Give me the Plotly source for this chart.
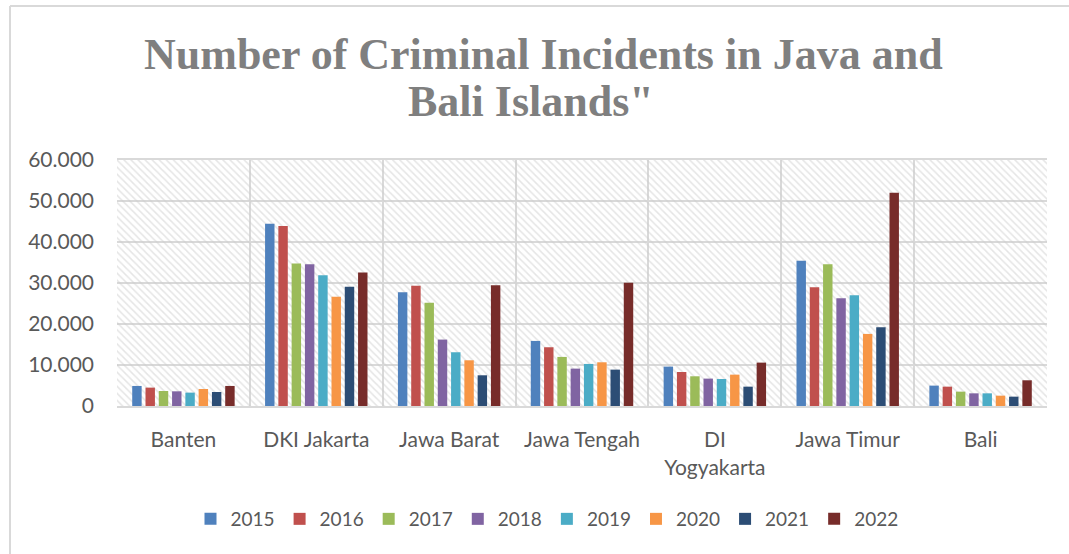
import plotly.graph_objects as go

categories = ["Banten", "DKI Jakarta", "Jawa Barat", "Jawa Tengah", "DI<br>Yogyakarta", "Jawa Timur", "Bali"]
years = ["2015", "2016", "2017", "2018", "2019", "2020", "2021", "2022"]
colors = ["#4f81bd", "#c0504d", "#9bbb59", "#8064a2", "#4bacc6", "#f79646", "#2c4d75", "#772c2a"]

v2015 = [4890, 44450, 27760, 15870, 9610, 35410, 4970]
v2016 = [4480, 43880, 29310, 14330, 8300, 28980, 4720]
v2017 = [3660, 34760, 25160, 11970, 7250, 34600, 3500]
v2018 = [3580, 34600, 16200, 9120, 6680, 26290, 3090]
v2019 = [3260, 31910, 13110, 10260, 6590, 27030, 3090]
v2020 = [4150, 26620, 11150, 10660, 7650, 17580, 2520]
v2021 = [3420, 29060, 7490, 8870, 4720, 19210, 2280]
v2022 = [4890, 32560, 29470, 30040, 10580, 52020, 6270]
series = [v2015, v2016, v2017, v2018, v2019, v2020, v2021, v2022]

title_lines = ["Number of Criminal Incidents in Java and", "Bali Islands\""]

Y_MAX = 60000
tick_vals = [0, 10000, 20000, 30000, 40000, 50000, 60000]

W, H = 1069, 554
ML, MR, MT, MB = 117, 22, 160, 148
PW, PH = W - ML - MR, H - MT - MB


def px_x(x):
    return (x - ML) / PW


def px_y(y):
    return (H - MB - y) / PH


fig = go.Figure()

# hatched background panel (decoration) on base axis
fig.add_trace(go.Bar(
    x=categories, y=[Y_MAX] * len(categories), width=1,
    xaxis="x", yaxis="y", showlegend=False, hoverinfo="skip",
    marker=dict(color="rgba(0,0,0,0)", line=dict(width=0),
                pattern=dict(shape="\\", fgcolor="#cccccc", bgcolor="rgba(0,0,0,0)",
                             size=5, solidity=0.3, fillmode="overlay")),
))

for yr, vals, c in zip(years, series, colors):
    fig.add_trace(go.Bar(
        x=categories, y=vals, name=yr, xaxis="x2", yaxis="y",
        marker=dict(color=c, line=dict(width=0)),
    ))

grey = "#d9d9d9"
title_font = dict(family="Liberation Serif", size=44, color="#7f7f7f")
fig.update_layout(
    width=W, height=H,
    paper_bgcolor="white", plot_bgcolor="white",
    separators=",.",
    barmode="group", bargap=0.2, bargroupgap=0.29,
    margin=dict(l=ML, r=MR, t=MT, b=MB, autoexpand=False),
    xaxis=dict(type="category", range=[-0.5, 6.5], tickson="boundaries",
               showgrid=True, gridcolor=grey, gridwidth=2, ticks="",
               showline=True, linecolor=grey, linewidth=2, mirror=True,
               ticklabelstandoff=14,
               tickfont=dict(family="Lato", size=21, color="#595959")),
    xaxis2=dict(type="category", range=[-0.5, 6.5], overlaying="x", matches="x",
                showticklabels=False, showgrid=False, ticks="", showline=False),
    yaxis=dict(range=[0, Y_MAX], tickvals=tick_vals, tickformat=",d",
               showgrid=True, gridcolor=grey, gridwidth=2, zeroline=False,
               ticks="", ticklabelstandoff=22,
               tickfont=dict(family="Lato", size=21, color="#595959")),
    legend=dict(orientation="h", x=px_x(547), xanchor="center", y=px_y(519), yanchor="middle",
                font=dict(family="Lato", size=19, color="#595959"),
                itemwidth=30, traceorder="normal"),
    annotations=[
        dict(text="<b>" + title_lines[0] + "</b>", xref="paper", yref="paper",
             x=px_x(543), y=px_y(54), xanchor="center", yanchor="middle",
             showarrow=False, font=title_font),
        dict(text="<b>" + title_lines[1] + "</b>", xref="paper", yref="paper",
             x=px_x(531), y=px_y(102), xanchor="center", yanchor="middle",
             showarrow=False, font=title_font),
    ],
    shapes=[
        dict(type="line", xref="paper", yref="paper", x0=px_x(10), x1=px_x(W + 5),
             y0=px_y(6), y1=px_y(6), line=dict(color=grey, width=2)),
        dict(type="line", xref="paper", yref="paper", x0=px_x(10), x1=px_x(10),
             y0=px_y(6), y1=px_y(H + 5), line=dict(color=grey, width=2)),
    ],
)

fig.write_html("out.html", config={"displayModeBar": False},
               post_script="document.body.style.margin='0px';")
